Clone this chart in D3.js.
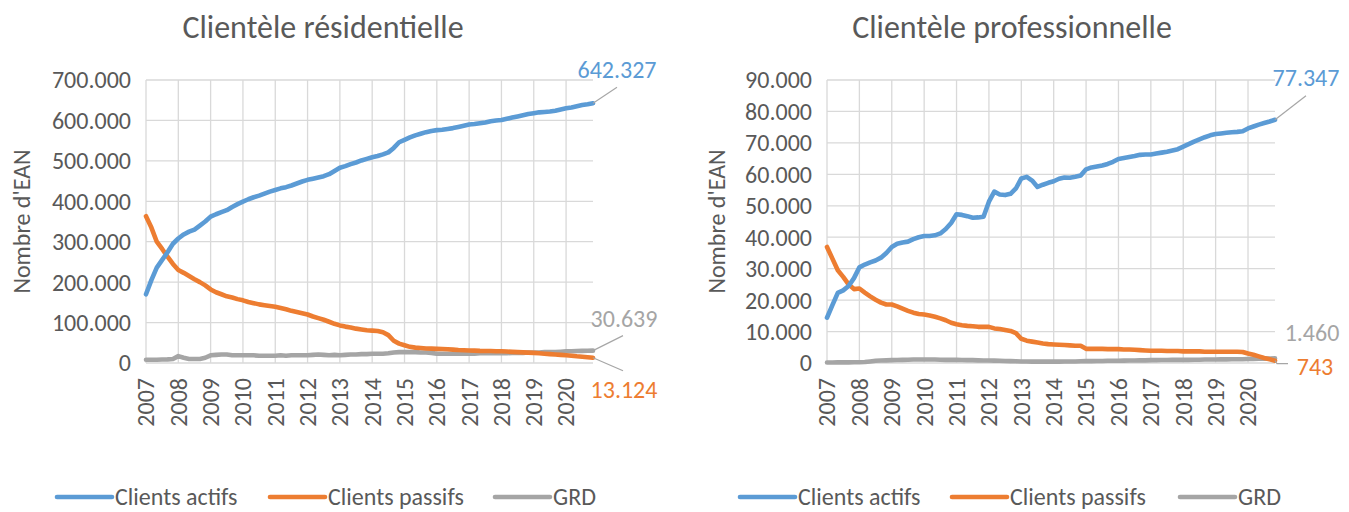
<!DOCTYPE html>
<html><head><meta charset="utf-8">
<script src="https://cdn.jsdelivr.net/npm/d3@7"></script>
<style>
html,body{margin:0;padding:0;background:#fff;}
svg{display:block;}
text{font-family:Carlito, Calibri, Lato, sans-serif;}
</style></head>
<body>
<svg id="chart" width="1349" height="512"></svg>
<script>
// ---- data ----
const years = [2007,2008,2009,2010,2011,2012,2013,2014,2015,2016,2017,2018,2019,2020];
const months = ["01","03","05","07","09","11"];
const seriesNames = ["Clients actifs","Clients passifs","GRD"];
const titles = ["Clientèle résidentielle","Clientèle professionnelle"];
const yLabel = "Nombre d'EAN";

const resActifs = [
170000,205000,236000,255000,274000,295000,
308000,318000,325000,330000,340000,350000,
362000,368000,373000,378000,386000,393000,
399000,405000,410000,414000,419000,424000,
428000,432000,435000,439000,444000,449000,
453000,456000,459000,462000,467000,475000,
483000,487000,492000,496000,501000,505000,
509000,512000,516000,521000,532000,546000,
552000,558000,563000,567000,571000,574000,
576000,577000,579000,581000,584000,587000,
590000,591000,593000,595000,598000,600000,
601000,604000,607000,610000,613000,616000,
618000,620000,621000,622000,624000,627000,
630000,632000,635000,638000,640000,642327];
const resPassifs = [
363000,335000,300000,282000,263000,245000,
230000,223000,215000,207000,200000,192000,
182000,175000,170000,165000,162000,158000,
155000,151000,148000,145000,143000,141000,
139000,136000,133000,129000,126000,123000,
120000,115000,111000,107000,102000,97000,
93000,90000,88000,85000,83000,81000,
80000,79000,76000,69000,55000,48000,
44000,40000,38000,37000,36000,35500,
35000,34500,34000,33000,32000,31500,
31000,30500,30000,29800,29500,29200,
29000,28300,27600,27000,26300,25600,
25000,24000,23000,22000,21000,20000,
19000,18000,16500,15500,14300,13124];
const resGRD = [
8000,8000,8000,8500,9000,10000,
17000,13000,10000,10000,10000,13000,
19000,20000,21000,21000,19000,19000,
19000,19000,19000,18000,18000,18000,
18000,19000,18000,19000,19000,19000,
19000,20000,21000,20000,19000,20000,
19000,20000,21000,21000,22000,22000,
23000,23000,23000,24000,26000,27000,
27000,27000,27000,26000,26000,25000,
23000,23000,23000,23000,23000,23000,
23000,23000,24000,24000,24000,24000,
24000,24000,25000,25000,25000,26000,
26000,26000,27000,27000,27000,28000,
29000,29000,29500,30000,30300,30639];

const proActifs = [
14400,18400,22300,23100,24500,27000,
30400,31300,32000,32600,33500,35000,
36900,37900,38300,38600,39400,40000,
40400,40400,40600,41200,42600,44500,
47300,47100,46700,46200,46300,46500,
51300,54500,53600,53400,53800,55500,
58700,59200,58000,56000,56700,57300,
57800,58600,59000,58900,59200,59600,
61600,62200,62500,62800,63300,64000,
64900,65200,65500,65800,66200,66300,
66300,66600,66900,67200,67600,68000,
68800,69600,70400,71100,71800,72400,
72800,73000,73200,73400,73500,73700,
74600,75200,75800,76300,76800,77347];
const proPassifs = [
36900,33200,29500,27400,25000,23500,
23700,22400,21200,20100,19200,18600,
18600,18000,17300,16600,16000,15600,
15400,15100,14700,14200,13600,12800,
12300,12000,11800,11700,11500,11500,
11500,11000,10800,10500,10200,9500,
7700,7100,6800,6500,6200,6000,
5900,5800,5700,5600,5500,5500,
4500,4500,4500,4500,4400,4400,
4400,4300,4300,4200,4100,4000,
3900,3900,3900,3800,3800,3800,
3700,3700,3700,3700,3600,3600,
3600,3600,3600,3600,3600,3500,
3000,2600,2100,1600,1200,743];
const proGRD = [
150,150,200,200,200,250,
250,300,500,700,800,850,
900,950,1000,1050,1100,1100,
1100,1100,1100,1050,1000,1000,
1000,950,900,900,850,800,
800,750,700,650,600,550,
500,500,450,450,450,450,
450,450,500,500,500,550,
600,600,650,650,700,700,
700,750,800,800,850,850,
900,900,950,950,1000,1000,
1000,1000,1050,1050,1100,1100,
1100,1150,1150,1200,1200,1200,
1250,1300,1350,1400,1430,1460];

const resTicks = [0,100000,200000,300000,400000,500000,600000,700000];
const proTicks = [0,10000,20000,30000,40000,50000,60000,70000,80000,90000];

// ---- rendering ----
const categories = years.flatMap(y => months.map(m => y + "-" + m));
const colors = ["#5B9BD5","#ED7D31","#A5A5A5"];
const textColor = "#595959";
const gridColor = "#D9D9D9";
const fmt = d3.formatLocale({decimal:",", thousands:".", grouping:[3], currency:["","€"]}).format(",d");

const svg = d3.select("#chart");

const panels = [
  {title:titles[0], series:[resActifs,resPassifs,resGRD], ticks:resTicks,
   x0:146, x1:593, titleX:323, yTitleX:22, legendX:[57,270,495],
   labels:[{dx:24,dy:-34,lead:[[0,0],[24,-16]]},{dx:31,dy:32,lead:[[0,0],[30,13]]},{dx:31,dy:-32,lead:[[0,0],[30,-15]]}]},
  {title:titles[1], series:[proActifs,proPassifs,proGRD], ticks:proTicks,
   x0:827, x1:1275, titleX:1012, yTitleX:717, legendX:[740,952,1180],
   labels:[{dx:31,dy:-42,lead:[[0,0],[31,-24]]},{dx:40,dy:6,lead:[[0,0],[2,3],[13,3]]},{dx:37,dy:-26,lead:null}]}
];

const yTop = 80, yBot = 363;
const fs = "24px";

panels.forEach(p => {
  const g = svg.append("g");
  const x = d3.scalePoint().domain(categories).range([p.x0, p.x1]);
  const y = d3.scaleLinear().domain([0, p.ticks[p.ticks.length-1]]).range([yBot, yTop]);

  // horizontal gridlines
  g.append("g").selectAll("line").data(p.ticks).join("line")
    .attr("x1", p.x0).attr("x2", p.x1)
    .attr("y1", d => y(d)).attr("y2", d => y(d))
    .attr("stroke", gridColor).attr("stroke-width", 1.3);
  // vertical gridlines (yearly)
  const yearCats = years.map(yr => yr + "-" + months[0]);
  g.append("g").selectAll("line").data(yearCats).join("line")
    .attr("x1", d => x(d)).attr("x2", d => x(d))
    .attr("y1", yTop).attr("y2", yBot)
    .attr("stroke", gridColor).attr("stroke-width", 1.3);

  // y tick labels
  g.append("g").selectAll("text").data(p.ticks).join("text")
    .attr("x", p.x0 - 15).attr("y", d => y(d)).attr("dy", "0.35em")
    .attr("text-anchor", "end").attr("fill", textColor)
    .style("font-size", fs).text(d => fmt(d));

  // x tick labels (rotated)
  g.append("g").selectAll("text").data(years).join("text")
    .attr("transform", (d,i) => `translate(${x(yearCats[i])},${yBot + 15}) rotate(-90)`)
    .attr("dy", "0.35em").attr("text-anchor", "end").attr("fill", textColor)
    .style("font-size", fs).text(d => d);

  // title
  g.append("text").attr("x", p.titleX).attr("y", 38).attr("text-anchor", "middle")
    .attr("fill", textColor).style("font-size", "32px").text(p.title);

  // y axis title
  g.append("text").attr("transform", `translate(${p.yTitleX},${(yTop+yBot)/2}) rotate(-90)`)
    .attr("dy", "0.35em").attr("text-anchor", "middle").attr("fill", textColor)
    .style("font-size", fs).text(yLabel);

  // lines
  const line = d3.line().x((d,i) => x(categories[i])).y(d => y(d));
  [2,1,0].forEach(k => {
    g.append("path").datum(p.series[k]).attr("d", line)
      .attr("fill", "none").attr("stroke", colors[k]).attr("stroke-width", 4.6)
      .attr("stroke-linejoin", "round").attr("stroke-linecap", "round");
  });

  // end labels
  p.series.forEach((s, k) => {
    const last = s[s.length-1];
    const ex = x(categories[categories.length-1]), ey = y(last);
    const L = p.labels[k];
    if (L.lead) {
      g.append("polyline").attr("points", L.lead.map(q => (ex+q[0]) + "," + (ey+q[1])).join(" "))
        .attr("fill", "none").attr("stroke", "#A6A6A6").attr("stroke-width", 1.2);
    }
    g.append("text").attr("x", ex + L.dx).attr("y", ey + L.dy).attr("dy", "0.35em")
      .attr("text-anchor", "middle").attr("fill", colors[k])
      .style("font-size", fs).text(fmt(last));
  });

  // legend
  const lg = g.append("g");
  seriesNames.forEach((n, k) => {
    const lx = p.legendX[k];
    lg.append("line").attr("x1", lx).attr("x2", lx + 55).attr("y1", 497).attr("y2", 497)
      .attr("stroke", colors[k]).attr("stroke-width", 4.6).attr("stroke-linecap", "round");
    lg.append("text").attr("x", lx + 58).attr("y", 497).attr("dy", "0.35em")
      .attr("fill", textColor).style("font-size", fs).text(n);
  });
});
</script>
</body></html>
